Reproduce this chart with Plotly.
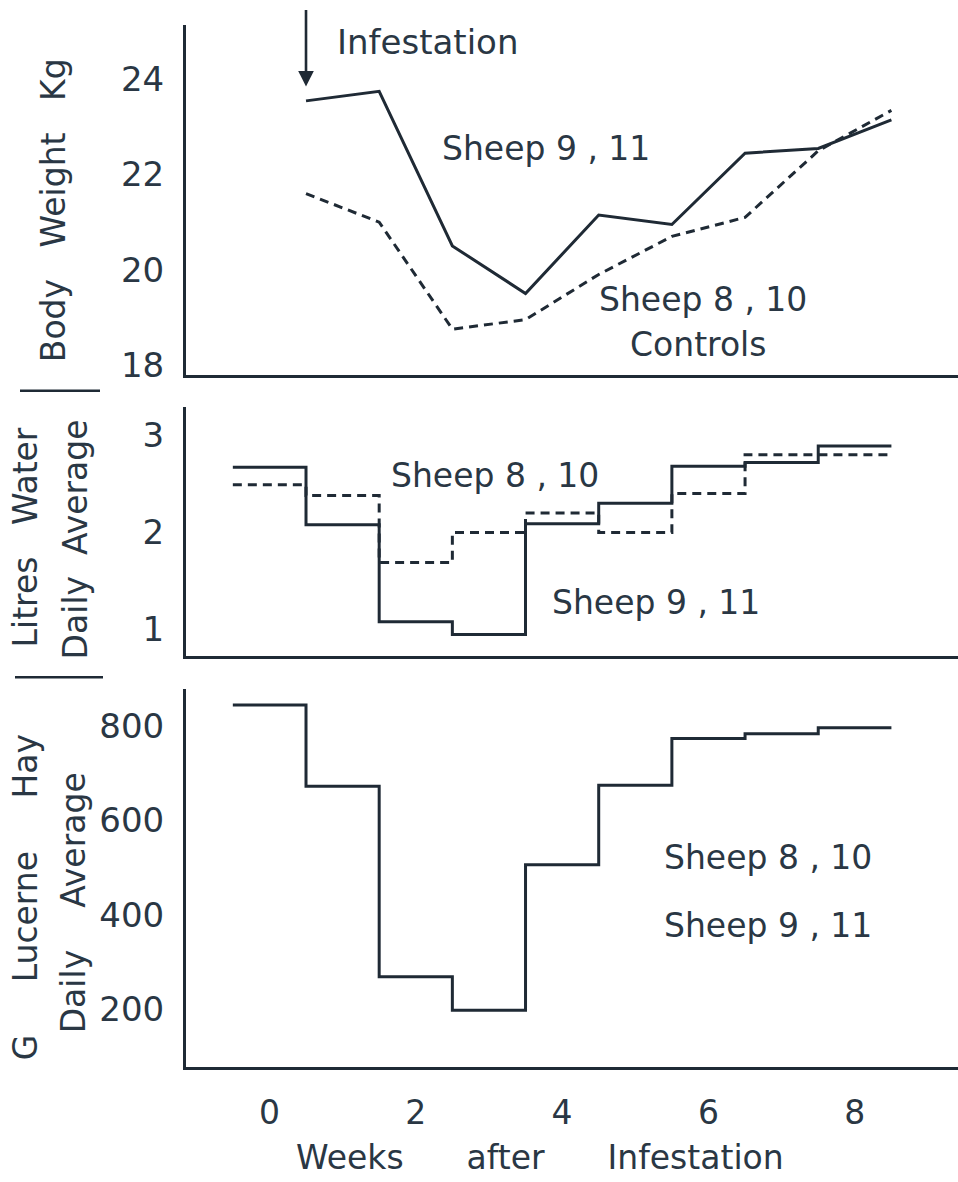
import plotly.graph_objects as go

W, H = 958, 1182
INK = "#1f2a35"
TXT = "#2a3744"
FONT = "DejaVu Sans"
FS = 33

# ---- data ----
weeks = [0, 1, 2, 3, 4, 5, 6, 7, 8]
bw_weeks = [0.5, 1.5, 2.5, 3.5, 4.5, 5.5, 6.5, 7.5, 8.5]
bw_infested = [23.55, 23.75, 20.5, 19.5, 21.15, 20.95, 22.45, 22.55, 23.15]
bw_controls = [21.6, 21.0, 18.75, 18.95, 19.9, 20.7, 21.1, 22.5, 23.35]
water_infested = [2.67, 2.08, 1.08, 0.95, 2.09, 2.30, 2.68, 2.72, 2.89]
water_controls = [2.49, 2.38, 1.69, 2.00, 2.20, 2.00, 2.40, 2.80, 2.80]
hay_all = [844, 672, 269, 198, 506, 674, 773, 783, 796]
x_ticks = [0, 2, 4, 6, 8]
bw_ticks = [18, 20, 22, 24]
water_ticks = [1, 2, 3]
hay_ticks = [200, 400, 600, 800]


def step_xy(xc, ys):
    xs = [v - 0.5 for v in xc] + [xc[-1] + 0.5]
    return xs, list(ys) + [ys[-1]]


def px(x):
    return x / W


def py(y):
    return 1 - y / H


fig = go.Figure()
solid = dict(color=INK, width=3)
dashed = dict(color=INK, width=3, dash="9px,6px")

fig.add_trace(go.Scatter(x=bw_weeks, y=bw_controls, mode="lines", line=dashed,
                         xaxis="x", yaxis="y"))
fig.add_trace(go.Scatter(x=bw_weeks, y=bw_infested, mode="lines", line=solid,
                         xaxis="x", yaxis="y"))

sx, sy = step_xy(weeks, water_controls)
fig.add_trace(go.Scatter(x=sx, y=sy, mode="lines", line=dashed, line_shape="hv",
                         xaxis="x2", yaxis="y2"))
sx, sy = step_xy(weeks, water_infested)
fig.add_trace(go.Scatter(x=sx, y=sy, mode="lines", line=solid, line_shape="hv",
                         xaxis="x2", yaxis="y2"))
sx, sy = step_xy(weeks, hay_all)
fig.add_trace(go.Scatter(x=sx, y=sy, mode="lines", line=solid, line_shape="hv",
                         xaxis="x3", yaxis="y3"))

xrange = [-1.14, 9.41]
xdom = [px(186), 1.0]
common_x = dict(range=xrange, domain=xdom, showline=True, linecolor=INK,
                linewidth=3, showgrid=False, zeroline=False, ticks="",
                fixedrange=True)
common_y = dict(showline=True, linecolor=INK, linewidth=3, showgrid=False,
                zeroline=False, ticks="", ticklabelstandoff=12,
                tickfont=dict(family=FONT, size=34, color=TXT))

layout = dict(
    width=W, height=H, margin=dict(l=0, r=0, t=0, b=0),
    paper_bgcolor="white", plot_bgcolor="white", showlegend=False,
    xaxis=dict(common_x, anchor="y", showticklabels=False),
    xaxis2=dict(common_x, anchor="y2", showticklabels=False),
    xaxis3=dict(common_x, anchor="y3", tickvals=x_ticks, ticklabelstandoff=15,
                tickfont=dict(family=FONT, size=33, color=TXT)),
    yaxis=dict(common_y, anchor="x", domain=[py(378), py(25)],
               range=[17.79, 25.15], tickvals=bw_ticks),
    yaxis2=dict(common_y, anchor="x2", domain=[py(662), py(410)],
                range=[0.724, 3.296], tickvals=water_ticks),
    yaxis3=dict(common_y, anchor="x3", domain=[py(1076), py(695)],
                range=[78.4, 877.6], tickvals=hay_ticks),
)
fig.update_layout(**layout)


def label(text, x, y, size=FS, angle=0, xanchor="center"):
    fig.add_annotation(text=text, x=px(x), y=py(y), xref="paper", yref="paper",
                       showarrow=False, textangle=angle, xanchor=xanchor,
                       yanchor="middle",
                       font=dict(family=FONT, size=size, color=TXT))


# arrow marking infestation
fig.add_annotation(x=0.5, y=23.85, xref="x", yref="y", ax=0, ay=-78,
                   text="", showarrow=True, arrowhead=2, arrowsize=1.2,
                   arrowwidth=2.6, arrowcolor=INK)
label("Infestation", 335, 42, size=34, xanchor="left")

# panel annotations
label("Sheep 9 , 11", 440, 150, xanchor="left")
label("Sheep 8 , 10", 597, 302, xanchor="left")
label("Controls", 698, 347)
label("Sheep 8 , 10", 389, 480, xanchor="left")
label("Sheep 9 , 11", 550, 608, xanchor="left")
label("Sheep 8 , 10", 662, 865, xanchor="left")
label("Sheep 9 , 11", 662, 933, xanchor="left")

# axis titles
label("Body   Weight   Kg", 53, 212, angle=-90)
label("Litres   Water", 25, 542, angle=-90)
label("Daily  Average", 75, 544, angle=-90)
label("G     Lucerne     Hay", 25, 905, angle=-90)
label("Daily    Average", 73, 911, angle=-90)
label("Weeks      after      Infestation", 540, 1167)

# separators between axis titles
for yy, x0, x1 in [(394, 20, 100), (683, 15, 103)]:
    fig.add_shape(type="line", xref="paper", yref="paper",
                  x0=px(x0), x1=px(x1), y0=py(yy), y1=py(yy),
                  line=dict(color=INK, width=2.5))

fig.write_html("out.html")
